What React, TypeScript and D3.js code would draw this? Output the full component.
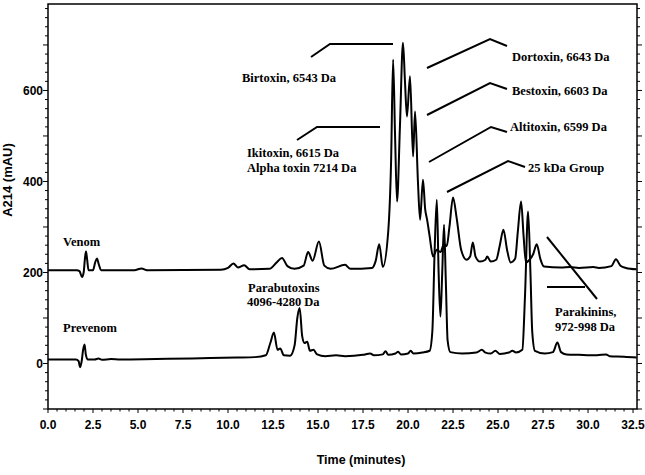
import React from "react";
import * as d3 from "d3";

// ---- data (time in minutes, absorbance in mAU) ----
const venom: [number, number][] = [
  [0, 205], [1.6, 205], [1.75, 203], [1.89, 190], [1.98, 200], [2.05, 230], [2.11, 246], [2.17, 230], [2.25, 205],
  [2.5, 205], [2.62, 222], [2.72, 231], [2.82, 218], [2.95, 205], [4.8, 205], [5.2, 209], [5.5, 205], [9.6, 206],
  [10.0, 210], [10.3, 220], [10.55, 211], [10.9, 216], [11.2, 207], [12.3, 208], [12.7, 222], [13.0, 232], [13.3, 214],
  [13.7, 208], [14.2, 215], [14.45, 245], [14.7, 226], [15.05, 268], [15.35, 215], [15.7, 208], [16.5, 217], [16.8, 208],
  [18.0, 210], [18.2, 225], [18.4, 262], [18.6, 212], [18.9, 290], [19.06, 445], [19.17, 668], [19.28, 500], [19.39, 356],
  [19.55, 520], [19.72, 705], [19.83, 620], [19.94, 543], [20.11, 631], [20.28, 455], [20.39, 554], [20.55, 400],
  [20.67, 316], [20.83, 404], [20.95, 340], [21.06, 316], [21.2, 280], [21.39, 235], [21.6, 250], [21.8, 245],
  [22.0, 262], [22.15, 258], [22.3, 300], [22.5, 365], [22.7, 320], [22.95, 250], [23.25, 228], [23.45, 235],
  [23.6, 266], [23.75, 235], [24.0, 224], [24.3, 228], [24.4, 235], [24.6, 224], [24.9, 228], [25.1, 260], [25.3, 294],
  [25.5, 250], [25.7, 222], [25.95, 230], [26.1, 290], [26.28, 356], [26.42, 280], [26.55, 222], [26.75, 228],
  [26.95, 240], [27.15, 262], [27.35, 230], [27.55, 213], [28.5, 211], [29, 212], [29.5, 210], [30.3, 212], [30.6, 210],
  [31.3, 214], [31.55, 229], [31.8, 215], [32.1, 210], [32.7, 207],
];

const prevenom: [number, number][] = [
  [0, 9], [1.55, 9], [1.7, 5], [1.78, -8], [1.87, 5], [1.95, 30], [2.03, 42], [2.1, 20], [2.2, 9], [2.6, 9], [2.8, 11],
  [3.0, 8], [3.5, 10], [4.0, 9], [6, 10], [8, 11], [9, 12], [10.5, 13], [11.5, 14], [12.1, 18], [12.35, 45], [12.55, 68],
  [12.75, 30], [12.9, 33], [13.1, 18], [13.45, 17], [13.7, 40], [13.85, 100], [13.98, 122], [14.12, 60], [14.25, 45],
  [14.4, 48], [14.55, 28], [14.75, 30], [14.95, 20], [15.4, 16], [16, 18], [16.5, 16], [17.5, 19], [17.9, 22], [18.1, 18],
  [18.6, 20], [18.75, 27], [18.9, 19], [19.3, 22], [19.45, 26], [19.6, 20], [20.0, 22], [20.15, 28], [20.3, 22],
  [20.8, 24], [21.2, 28], [21.35, 70], [21.48, 250], [21.6, 360], [21.7, 200], [21.8, 103], [21.9, 200], [22.0, 305],
  [22.1, 180], [22.2, 50], [22.35, 25], [23.0, 22], [23.8, 24], [24.1, 30], [24.3, 24], [24.6, 22], [24.85, 28],
  [25.1, 21], [25.6, 24], [25.8, 28], [26.0, 24], [26.35, 30], [26.5, 150], [26.67, 334], [26.8, 200], [26.9, 70],
  [27.05, 28], [27.6, 22], [28.05, 25], [28.3, 46], [28.5, 25], [28.8, 20], [29.5, 19], [30.5, 18], [31.0, 20],
  [31.2, 16], [32, 15], [32.7, 13],
];

const xTickLabels = [0, 2.5, 5, 7.5, 10, 12.5, 15, 17.5, 20, 22.5, 25, 27.5, 30, 32.5];
const yTickLabels = [0, 200, 400, 600];

// ---- layout ----
const W = 645, H = 475;
const M = { left: 48, right: 8, top: 4, bottom: 66 };
const serif = "'Liberation Serif', 'Times New Roman', serif";
const sans = "'Liberation Sans', Arial, sans-serif";

const labels = [
  { text: "Birtoxin, 6543 Da", x: 242, y: 82 },
  { text: "Dortoxin, 6643 Da", x: 512, y: 61 },
  { text: "Bestoxin, 6603 Da", x: 512, y: 95 },
  { text: "Altitoxin, 6599 Da", x: 510, y: 131 },
  { text: "25 kDa Group", x: 528, y: 172 },
  { text: "Ikitoxin, 6615 Da", x: 247, y: 157 },
  { text: "Alpha toxin 7214 Da", x: 247, y: 172 },
  { text: "Venom", x: 63, y: 246 },
  { text: "Prevenom", x: 63, y: 332 },
  { text: "Parabutoxins", x: 248, y: 292 },
  { text: "4096-4280 Da", x: 247, y: 306 },
  { text: "Parakinins,", x: 555, y: 316 },
  { text: "972-998 Da", x: 555, y: 331 },
];

const leaders: [number, number][][] = [
  [[311, 57], [330, 44], [393, 44]],
  [[297, 140], [317, 127], [380, 127]],
  [[427, 68], [490, 39], [507, 46]],
  [[427, 115], [490, 83], [507, 89]],
  [[429, 162], [491, 127], [507, 132]],
  [[447, 192], [508, 161], [525, 167]],
  [[547, 237], [597, 299]],
  [[547, 287], [585, 287]],
];

export default function App() {
  const x = d3.scaleLinear().domain([0, 32.72]).range([M.left, W - M.right]);
  const y = d3.scaleLinear().domain([-100, 790]).range([H - M.bottom, M.top]);
  const line = d3
    .line<[number, number]>()
    .x((d) => x(d[0]))
    .y((d) => y(d[1]))
    .curve(d3.curveMonotoneX);
  const x0 = M.left, x1 = W - M.right, y0 = H - M.bottom, y1 = M.top;
  const xMinor = d3.range(0, 32.51, 0.5);
  const yMinor = d3.range(-100, 781, 20);
  const seg = d3.line();

  return (
    <svg width={W} height={H} style={{ position: "absolute", left: 0, top: 0, background: "#fff" }}>
      <rect x={0} y={0} width={W} height={H} fill="#fff" />
      {/* frame */}
      <rect x={x0} y={y1} width={x1 - x0} height={y0 - y1} fill="none" stroke="#000" strokeWidth={1.5} />
      {/* x ticks */}
      {xMinor.map((t) => {
        const major = Math.abs(t / 2.5 - Math.round(t / 2.5)) < 1e-6;
        return <line key={"xt" + t} x1={x(t)} x2={x(t)} y1={y0} y2={y0 + (major ? 4 : 2.5)} stroke="#000" strokeWidth={1} />;
      })}
      {/* y ticks left and right */}
      {yMinor.map((v) => {
        const major = v % 100 === 0;
        const len = major ? 5 : 3;
        return (
          <g key={"yt" + v}>
            <line x1={x0 - len} x2={x0} y1={y(v)} y2={y(v)} stroke="#000" strokeWidth={1} />
            <line x1={x1} x2={x1 + len} y1={y(v)} y2={y(v)} stroke="#000" strokeWidth={1} />
          </g>
        );
      })}
      {xTickLabels.map((t) => (
        <text key={"xl" + t} x={x(t)} y={429} textAnchor="middle" fontFamily={sans} fontWeight="bold" fontSize={12}>
          {t.toFixed(1)}
        </text>
      ))}
      {yTickLabels.map((v) => (
        <text key={"yl" + v} x={43} y={y(v)} dy="0.35em" textAnchor="end" fontFamily={sans} fontWeight="bold" fontSize={12}>
          {v}
        </text>
      ))}
      <text x={361} y={464} textAnchor="middle" fontFamily={sans} fontWeight="bold" fontSize={12.5}>
        Time (minutes)
      </text>
      <text transform="translate(12,180) rotate(-90)" textAnchor="middle" fontFamily={sans} fontWeight="bold" fontSize={13}>
        A214 (mAU)
      </text>
      {/* traces */}
      <path d={line(venom) || ""} fill="none" stroke="#000" strokeWidth={2} strokeLinejoin="round" />
      <path d={line(prevenom) || ""} fill="none" stroke="#000" strokeWidth={2} strokeLinejoin="round" />
      {/* annotations */}
      {leaders.map((pts, i) => (
        <path key={"ld" + i} d={seg(pts) || ""} fill="none" stroke="#000" strokeWidth={2} />
      ))}
      {labels.map((l) => (
        <text key={l.text} x={l.x} y={l.y} fontFamily={serif} fontWeight="bold" fontSize={12.5}>
          {l.text}
        </text>
      ))}
    </svg>
  );
}
